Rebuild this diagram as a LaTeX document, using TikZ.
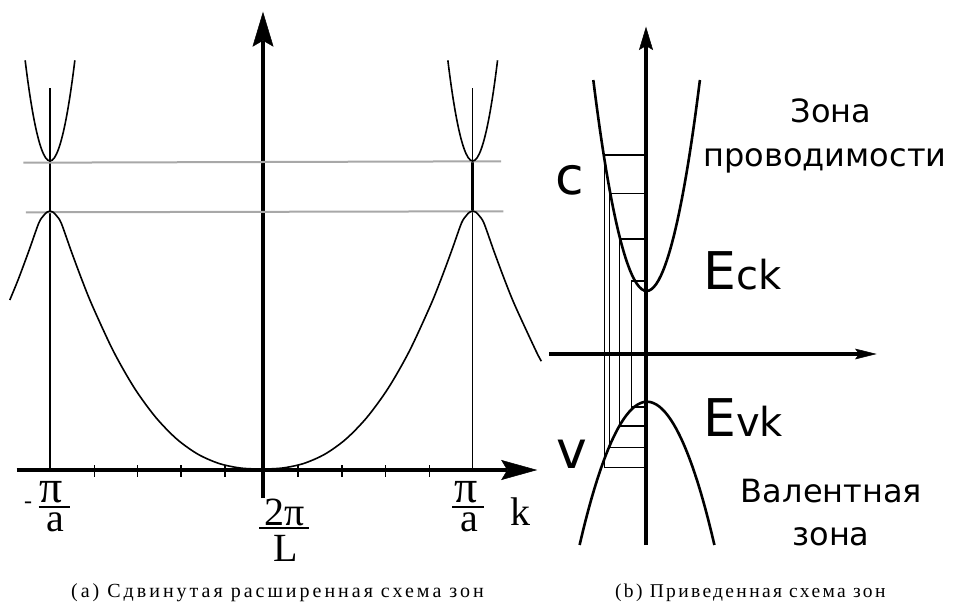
\documentclass[tikz,border=0pt]{standalone}
\usepackage{fontspec}
\setmainfont{Liberation Serif}
\newfontfamily\sansfnt{DejaVu Sans}
\newfontfamily\capfnt[LetterSpace=12]{Liberation Serif}
\newfontfamily\capwidefnt[LetterSpace=15]{Liberation Serif}
\usetikzlibrary{arrows.meta}
\definecolor{gridgray}{RGB}{168,168,168}
\begin{document}
\begin{tikzpicture}[x=1pt,y=-1pt,
  axis/.style={line width=4.5pt},
  bandl/.style={line width=1.6pt},
  bandr/.style={line width=2.6pt},
  thinline/.style={line width=1.3pt},
  thickseg/.style={line width=2.6pt},
  grayline/.style={line width=2pt, draw=gridgray},
  fracbar/.style={line width=2pt},
  lbl/.style={inner sep=0pt, anchor=base, font=\fontsize{40}{48}\selectfont},
  numer/.style={lbl, text depth=0pt, font=\fontsize{46}{52}\selectfont},
  denom/.style={lbl, text height=19pt},
  rtxt/.style={inner sep=0pt, anchor=base, font=\sansfnt\fontsize{32}{38}\selectfont},
  big/.style={inner sep=0pt, anchor=base west, font=\sansfnt\fontsize{52}{60}\selectfont},
  captxt/.style={inner sep=0pt, anchor=base, font=\capfnt\fontsize{19.5}{24}\selectfont}]
\useasboundingbox (0,0) rectangle (957,607);

% ---------- left panel ----------
\coordinate (vaB) at (263,498);
\coordinate (vaT) at (263,11.7);
\coordinate (haL) at (16.5,470);
\coordinate (haR) at (537.2,470);
\draw[axis,-{Stealth[length=35pt,width=21pt,inset=6pt,line width=0.5pt]}] (vaB) -- (vaT);
\draw[axis,-{Stealth[length=36pt,width=20pt,inset=6pt,line width=0.5pt]}] (haL) -- (haR);
\foreach \x in {94.3,137.3,181,225,297.9,341.9,385.7,429.4}
  \draw[thinline] (\x,465) -- (\x,477);

% zone boundaries
\coordinate (bl1) at (50,88.3);  \coordinate (bl2) at (50,470);
\coordinate (br1) at (472.7,88.3); \coordinate (br2) at (472.7,470);
\draw[thinline] (bl1) -- (bl2);
\draw[thinline] (br1) -- (br2);
\draw[thickseg] (50,162) -- (50,212);
\draw[thickseg] (472.7,162) -- (472.7,212);

% gray levels
\coordinate (g1a) at (23.4,162.7); \coordinate (g1b) at (501,161.3);
\coordinate (g2a) at (25.8,212.3); \coordinate (g2b) at (503.4,211.3);
\draw[grayline] (g1a) -- (g1b);
\draw[grayline] (g2a) -- (g2b);

% upper bands
\draw[bandl] (25.15,60.3) parabola bend (50,161) (74.85,60.3);
\draw[bandl] (447.85,60.3) parabola bend (472.7,161) (497.55,60.3);

% lower band
\draw[bandl] plot[smooth, tension=0.5] coordinates {
 (9.8,300) (18.3,279.3) (28.9,250.8) (38.8,223) (43.7,215.5) (46.8,212.2) (50,211)
 (53.2,212.2) (56.3,215.5) (61.2,223) (71.1,250.8) (81.7,279.3) (92.3,305.6)
 (113.4,351.2) (134.5,388.2) (155.7,417.3) (176.8,439.1) (197.9,454.2) (219.1,463.5)
 (240.2,468) (261.35,469) (282.5,468) (303.6,463.5) (324.8,454.2) (345.9,439.1)
 (367.0,417.3) (388.2,388.2) (409.3,351.2) (430.4,305.6) (441.0,279.3) (451.6,250.8)
 (461.5,223) (466.4,215.5) (469.5,212.2) (472.7,211) (475.9,212.2) (479.0,215.5)
 (483.9,223) (493.8,250.8) (504.4,279.3) (515.0,305.6) (536.1,351.2) (541.4,361.2)};

% labels
\node[inner sep=0pt, font=\fontsize{24}{24}\selectfont] (minus) at (28.2,505.5) {-};
\node[numer] (pil) at (51.3,502) {π};
\draw[fracbar] (38.6,506.7) -- (69.6,506.7);
\node[denom] (al) at (55.1,531.7) {a};
\node[lbl, text depth=0pt] (twopi) at (285,525) {2π};
\draw[fracbar] (259,528.3) -- (309.2,528.3);
\node[denom] (L) at (285.7,561.7) {L};
\node[numer] (pir) at (465.7,502) {π};
\draw[fracbar] (452,506.7) -- (483.8,506.7);
\node[denom] (ar) at (469.3,531.7) {a};
\node[lbl] (k) at (520.8,525) {k};

% ---------- right panel ----------
\coordinate (rvB) at (646,545);
\coordinate (rvT) at (646,26.7);
\coordinate (rhL) at (549,354);
\coordinate (rhR) at (876.7,354);
\draw[axis,-{Stealth[length=23.3pt,width=14pt,inset=4pt,line width=0.5pt]}] (rvB) -- (rvT);
\draw[axis,-{Stealth[length=21.7pt,width=10.7pt,inset=4pt,line width=0.5pt]}] (rhL) -- (rhR);

\draw[bandr] (593.3,80) parabola bend (646.6,291) (699.9,80);
\draw[bandr] (579.6,545) parabola bend (647,401.7) (714.4,545);

\foreach \x/\yc/\yv in {604.3/155/467.3, 609.3/193.3/447.7, 619.3/239/426, 631.7/281/407}
  \draw[thinline] (646,\yc) -- (\x,\yc) -- (\x,\yv) -- (646,\yv);

\node[rtxt] (zona1) at (831,122) {Зона};
\node[rtxt] (prov) at (825,166) {проводимости};
\node[big] (c) at (555,194) {c};
\node[big] (v) at (556.5,468) {v};
\node[big] (eck) at (703,289.3) {E{\fontsize{40}{48}\selectfont ck}};
\node[big] (evk) at (703,436.7) {E{\fontsize{40}{48}\selectfont vk}};
\node[rtxt] (val) at (831.5,502) {Валентная};
\node[rtxt] (zona2) at (831,545) {зона};

% captions
\node[captxt, font=\capwidefnt\fontsize{20}{24}\selectfont] (capa) at (277.5,597) {(a) Сдвинутая расширенная схема зон};
\node[captxt] (capb) at (750.3,597) {(b) Приведенная схема зон};
\end{tikzpicture}
\end{document}
